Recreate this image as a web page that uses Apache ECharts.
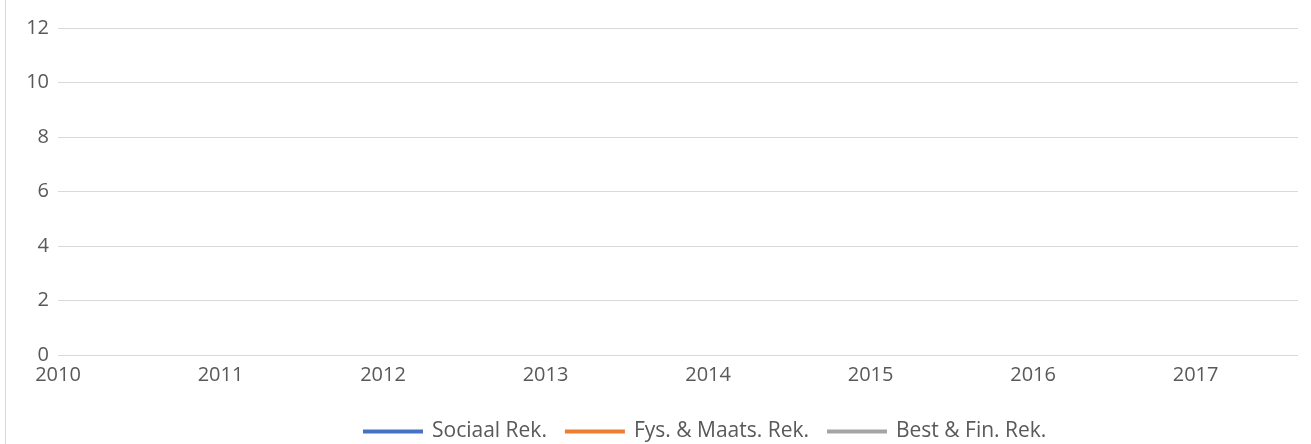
<!DOCTYPE html>
<html>
<head>
<meta charset="utf-8">
<script src="https://cdn.jsdelivr.net/npm/echarts@6/dist/echarts.min.js"></script>
<style>
  html, body { margin: 0; padding: 0; background: #fff; }
  #main { width: 1311px; height: 444px; position: relative; }
  #edge { position: absolute; left: 5px; top: 0; width: 1px; height: 444px; background: #d9d9d9; }
</style>
</head>
<body>
<div id="edge"></div>
<div id="main"></div>
<script>
// jaren op de x-as
var years = [2010, 2011, 2012, 2013, 2014, 2015, 2016, 2017];
// geen zichtbare waarden in de grafiek
var sociaal = [null, null, null, null, null, null, null, null];
var fysMaats = [null, null, null, null, null, null, null, null];
var bestFin = [null, null, null, null, null, null, null, null];
var seriesNames = ['Sociaal Rek.', 'Fys. & Maats. Rek.', 'Best & Fin. Rek.'];
var colors = ['#4472c4', '#ed7d31', '#a5a5a5'];

function pairs(vals) {
  return years.map(function (y, i) { return [y, vals[i]]; });
}

var myChart = echarts.init(document.getElementById('main'));

var font = 'Open Sans, sans-serif';

var option = {
  color: colors,
  animation: false,
  grid: { left: 58, right: 13, top: 28, bottom: 89 },
  legend: {
    top: 421,
    left: 363,
    padding: 0,
    icon: 'rect',
    itemWidth: 60,
    itemHeight: 4,
    itemGap: 18,
    textStyle: { color: '#595959', fontSize: 21, fontFamily: font, padding: [0, 0, 0, 4] },
    data: seriesNames
  },
  xAxis: {
    type: 'value',
    min: 2010,
    max: 2017.63,
    interval: 1,
    axisLine: { show: false },
    axisTick: { show: false },
    splitLine: { show: false },
    axisLabel: {
      color: '#595959', fontSize: 20, fontFamily: font, margin: 10,
      formatter: function (v) { return Math.abs(v - Math.round(v)) < 1e-6 ? String(Math.round(v)) : ''; }
    }
  },
  yAxis: {
    type: 'value',
    min: 0,
    max: 12,
    interval: 2,
    axisLine: { show: false },
    axisTick: { show: false },
    splitLine: { lineStyle: { color: '#d9d9d9', width: 1 } },
    axisLabel: { color: '#595959', fontSize: 20, fontFamily: font, margin: 9 }
  },
  series: [
    { name: seriesNames[0], type: 'line', data: pairs(sociaal), showSymbol: false, lineStyle: { width: 3 } },
    { name: seriesNames[1], type: 'line', data: pairs(fysMaats), showSymbol: false, lineStyle: { width: 3 } },
    { name: seriesNames[2], type: 'line', data: pairs(bestFin), showSymbol: false, lineStyle: { width: 3 } }
  ]
};
myChart.setOption(option);
</script>
</body>
</html>
